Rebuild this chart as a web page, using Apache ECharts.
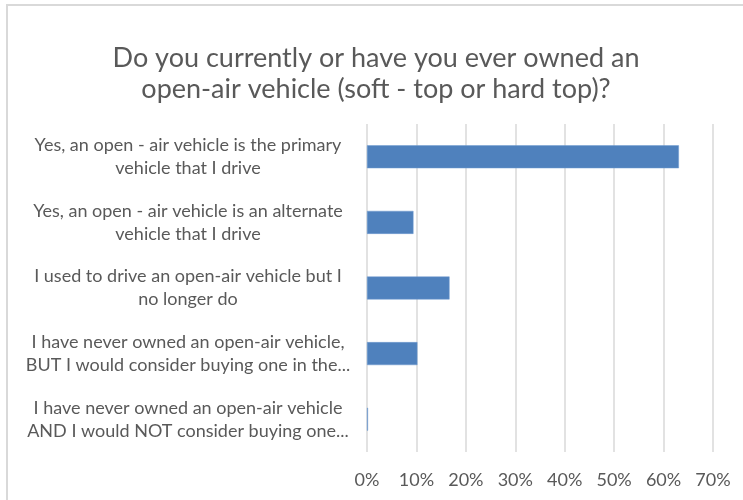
<!DOCTYPE html>
<html>
<head>
<meta charset="utf-8">
<script src="https://cdn.jsdelivr.net/npm/echarts@6/dist/echarts.min.js"></script>
<style>
  html, body { margin: 0; padding: 0; background: #fff; }
  #chart { width: 743px; height: 500px; }
</style>
</head>
<body>
<div id="chart"></div>
<script>
// Survey answers (wrapped onto two lines as shown on the axis)
const categories = [
  'Yes, an open - air vehicle is the primary\nvehicle that I drive',
  'Yes, an open - air vehicle is an alternate\nvehicle that I drive',
  'I used to drive an open-air vehicle but I\nno longer do',
  'I have never owned an open-air vehicle,\nBUT I would consider buying one in the...',
  'I have never owned an open-air vehicle\nAND I would NOT consider buying one...'
];
// Share of respondents, in percent
const shares = [63.1, 9.4, 16.7, 10.2, 0.2];
const tickMin = 0;
const tickMax = 70;
const tickStep = 10;

const chart = echarts.init(document.getElementById('chart'));
chart.setOption({
  backgroundColor: '#ffffff',
  animation: false,
  title: {
    text: 'Do you currently or have you ever owned an\nopen-air vehicle (soft - top or hard top)?',
    left: 371,
    top: 38,
    textAlign: 'center',
    textStyle: {
      fontFamily: 'Lato',
      fontWeight: 'normal',
      fontSize: 27,
      lineHeight: 31,
      color: '#595959'
    }
  },
  graphic: [
    { type: 'line', shape: { x1: 7, y1: 5, x2: 743, y2: 5 }, style: { stroke: '#d9d9d9', lineWidth: 2 } },
    { type: 'line', shape: { x1: 7, y1: 4, x2: 7, y2: 500 }, style: { stroke: '#d9d9d9', lineWidth: 2 } }
  ],
  grid: { left: 367, right: 30, top: 124, bottom: 48, containLabel: false },
  xAxis: {
    type: 'value',
    min: tickMin,
    max: tickMax,
    interval: tickStep,
    axisLine: { show: false },
    axisTick: { show: false },
    splitLine: { show: true, lineStyle: { color: '#d9d9d9', width: 1.5 } },
    axisLabel: {
      formatter: '{value}%',
      margin: 19,
      fontFamily: 'Lato',
      fontSize: 18,
      color: '#595959'
    }
  },
  yAxis: {
    type: 'category',
    data: categories,
    inverse: true,
    axisLine: { show: false },
    axisTick: { show: false },
    splitLine: { show: false },
    axisLabel: {
      align: 'center',
      margin: 179,
      fontFamily: 'Lato',
      fontSize: 18,
      lineHeight: 23,
      color: '#595959'
    }
  },
  series: [{
    type: 'bar',
    data: shares,
    barCategoryGap: '65%',
    itemStyle: { color: '#4f81bd', borderColor: '#6f9ad0', borderWidth: 0.5 }
  }]
});
</script>
</body>
</html>
